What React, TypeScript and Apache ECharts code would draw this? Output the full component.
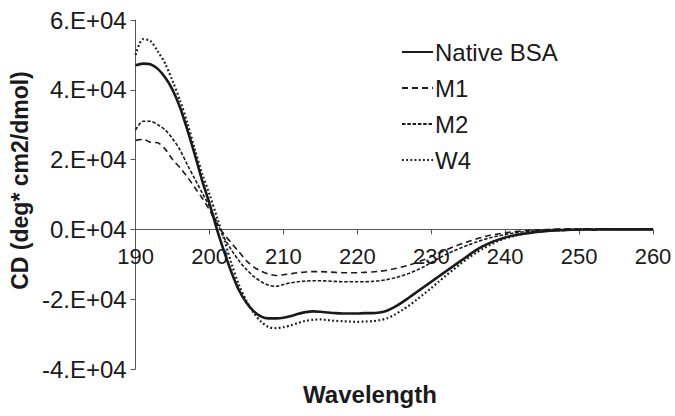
import { useEffect, useRef } from "react";
import * as echarts from "echarts";

const wavelengths = [
  190, 191, 192, 193, 194, 195, 196, 197, 198, 199,
  200, 201, 202, 203, 204, 205, 206, 207, 208, 209,
  210, 211, 212, 213, 214, 215, 216, 217, 218, 219,
  220, 221, 222, 223, 224, 225, 226, 227, 228, 229,
  230, 231, 232, 233, 234, 235, 236, 237, 238, 239,
  240, 241, 242, 243, 244, 245, 246, 247, 248, 249,
  250, 251, 252, 253, 254, 255, 256, 257, 258, 259, 260,
];

const nativeBSA = [
  47000, 47500, 47300, 46000, 43500, 40000, 35000, 28500, 21500, 14000,
  7400, 0, -6500, -12500, -17500, -21000, -23500, -25000, -25500, -25500,
  -25300, -24800, -24200, -23700, -23500, -23600, -23800, -24000, -24100, -24100,
  -24100, -24000, -24000, -23800, -23300, -22300, -21000, -19500, -18000, -16500,
  -15000, -13500, -12000, -10500, -9000, -7500, -6000, -4800, -3800, -3000,
  -2300, -1800, -1400, -1100, -800, -600, -400, -300, -200, -100,
  -100, 0, -100, 0, 0, 0, 0, 0, 0, 0, 0,
];

const m1 = [
  25500, 25800, 25000, 24800, 23000, 20000, 17700, 15000, 12000, 9000,
  5500, 1500, -1500, -4000, -6500, -9000, -10800, -12000, -12800, -13200,
  -13000, -12700, -12400, -12200, -12100, -12100, -12200, -12300, -12400, -12400,
  -12400, -12300, -12200, -12000, -11700, -11300, -10800, -10200, -9500, -8700,
  -7800, -6800, -5900, -5000, -4200, -3500, -2800, -2200, -1700, -1300,
  -1000, -700, -500, -300, -200, -100, 0, 100, 100, 200,
  100, 200, 100, 100, 200, 100, 100, 200, 100, 100, 100,
];

const m2 = [
  28500, 31000, 31000, 30000, 28500, 26000, 22800, 18500, 14500, 10500,
  6500, 2000, -2500, -6000, -9000, -11500, -13500, -15000, -16000, -16300,
  -15800, -15300, -15000, -14800, -14700, -14700, -14800, -14900, -15000, -15000,
  -15000, -15000, -14900, -14700, -14400, -13900, -13300, -12600, -11700, -10700,
  -9500, -8300, -7200, -6200, -5300, -4500, -3700, -3000, -2400, -1900,
  -1500, -1100, -800, -600, -400, -200, -100, 0, 0, 0,
  0, 0, 0, 0, 0, 0, 0, 0, 0, 0, 0,
];

const w4 = [
  50000, 54500, 54000, 51000, 47500, 42500, 37000, 30500, 23000, 16000,
  10000, 3500, -3000, -10000, -16000, -20500, -24000, -26500, -28000, -28300,
  -28000, -27500, -26800, -26200, -25900, -25800, -26000, -26200, -26300, -26400,
  -26500, -26400, -26300, -26000, -25500, -24500, -23200, -21800, -20200, -18500,
  -16800, -15000, -13200, -11500, -9800, -8200, -6800, -5500, -4400, -3400,
  -2600, -2000, -1500, -1100, -800, -600, -400, -300, -200, -100,
  0, 0, 0, 0, 0, 0, 0, 0, 0, 0, 0,
];

const seriesNames = ["Native BSA", "M1", "M2", "W4"];
const yAxisTitle = "CD (deg* cm2/dmol)";
const xAxisTitle = "Wavelength";

const FONT = "'Liberation Sans', Arial, Helvetica, sans-serif";
const INK = "#1a1a1a";

export default function App() {
  const ref = useRef<HTMLDivElement>(null);

  useEffect(() => {
    if (!ref.current) return;
    const chart = echarts.init(ref.current, null, { renderer: "svg" });
    const pair = (arr: number[]) => wavelengths.map((w, i) => [w, arr[i]]);
    const styles = [
      { width: 2.6, type: "solid" as any },
      { width: 1.6, type: [6, 4] as any },
      { width: 1.6, type: [3.5, 1.8] as any },
      { width: 2.2, type: [1.8, 2.4] as any },
    ];
    const datasets = [nativeBSA, m1, m2, w4];

    chart.setOption({
      animation: false,
      backgroundColor: "#ffffff",
      grid: { left: 130, right: 22, top: 20, bottom: 47, containLabel: false },
      legend: {
        orient: "vertical",
        left: 396,
        top: 35,
        itemWidth: 31,
        itemHeight: 14,
        itemGap: 12,
        data: seriesNames,
        itemStyle: { opacity: 0 },
        textStyle: { fontFamily: FONT, fontSize: 24, color: INK, padding: [0, 0, 0, -3] },
      },
      xAxis: {
        type: "value",
        min: 190,
        max: 260,
        interval: 10,
        axisLine: { show: true, onZero: true, lineStyle: { color: "#555", width: 1 } },
        axisTick: { show: true, length: 5, lineStyle: { color: "#555" } },
        axisLabel: { fontFamily: FONT, fontSize: 22, color: INK, margin: -124 },
        splitLine: { show: false },
      },
      yAxis: {
        type: "value",
        min: -40000,
        max: 60000,
        interval: 20000,
        name: yAxisTitle,
        nameLocation: "middle",
        nameGap: 102,
        nameTextStyle: { fontFamily: FONT, fontSize: 23, fontWeight: "bold", color: INK, padding: [0, 0, 0, 28] },
        axisLine: { show: true, onZero: false, lineStyle: { color: "#555", width: 1 } },
        axisTick: { show: true, length: 5, lineStyle: { color: "#555" } },
        axisLabel: {
          fontFamily: FONT,
          fontSize: 24,
          color: INK,
          margin: 9,
          formatter: (v: number) => `${v / 10000}.E+04`,
        },
        splitLine: { show: false },
      },
      graphic: [
        {
          type: "text",
          x: 370,
          y: 394,
          style: {
            text: xAxisTitle,
            font: `bold 24px ${FONT}`,
            fill: INK,
            textAlign: "center",
            textVerticalAlign: "middle",
          },
        },
      ],
      series: seriesNames.map((name, i) => ({
        name,
        type: "line",
        data: pair(datasets[i]),
        smooth: 0.3,
        showSymbol: false,
        symbol: "none",
        lineStyle: { color: INK, ...styles[i] },
        itemStyle: { color: INK },
        z: 10 - i,
      })),
    });

    return () => chart.dispose();
  }, []);

  return (
    <div
      ref={ref}
      style={{ position: "fixed", left: 0, top: 0, width: 675, height: 416 }}
    />
  );
}
